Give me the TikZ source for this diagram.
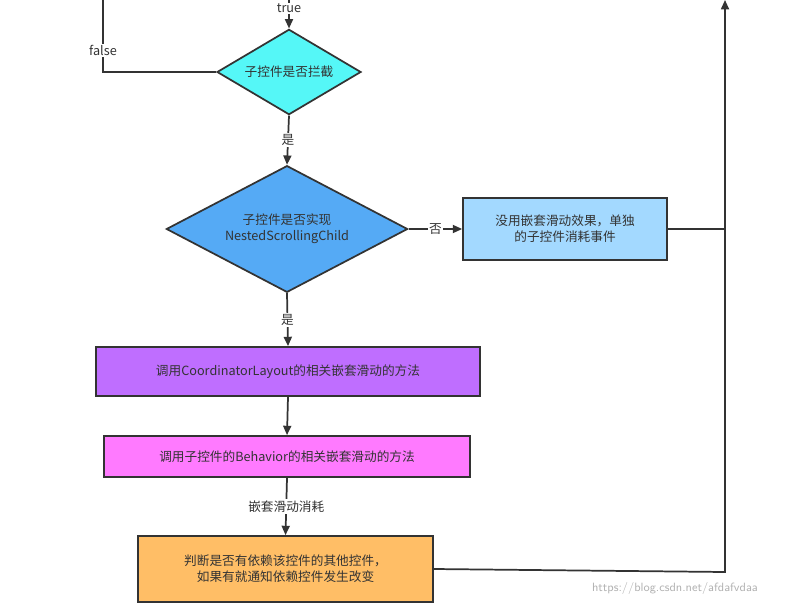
\documentclass[tikz,border=0pt]{standalone}
\usepackage{fontspec}
\setmainfont{Noto Sans CJK SC}
\usetikzlibrary{shapes.geometric,arrows.meta}
\definecolor{cyanf}{HTML}{55F7F7}
\definecolor{bluef}{HTML}{55AAF5}
\definecolor{lbluef}{HTML}{A3D9FF}
\definecolor{purf}{HTML}{BF6EFF}
\definecolor{pinkf}{HTML}{FF7AFF}
\definecolor{orf}{HTML}{FFBE66}
\definecolor{ln}{HTML}{333333}
\begin{document}
\begin{tikzpicture}[x=0.75pt,y=-0.75pt,font=\fontsize{9.5pt}{12pt}\selectfont,
 txt/.style={text=ln},
 dia/.style={diamond,draw=ln,line width=1.3pt,inner sep=0pt,aspect=1.7,align=center,txt},
 box/.style={draw=ln,line width=1.3pt,align=center,txt,inner sep=0pt},
 con/.style={draw=ln,line width=1.3pt},
 arr/.style={con,-{Triangle[length=7pt,width=6pt]}},
 lab/.style={fill=white,inner sep=1pt,txt}]
\useasboundingbox (0,0) rectangle (795,606);
\fill[white] (0,0) rectangle (795,606);
\node[dia,fill=cyanf,minimum width=144\pgflinewidth*0+108pt,minimum height=64pt] (d1) at (289,72) {子控件是否拦截};
\node[dia,fill=bluef,minimum width=181pt,minimum height=95pt] (d2) at (287,229) {子控件是否实现\\NestedScrollingChild};
\node[box,fill=lbluef,minimum width=153pt,minimum height=46.5pt] (b1) at (565,229) {没用嵌套滑动效果，单独\\的子控件消耗事件};
\node[box,fill=purf,minimum width=288pt,minimum height=36.75pt] (b2) at (288,371.5) {调用CoordinatorLayout的相关嵌套滑动的方法};
\node[box,fill=pinkf,minimum width=274.5pt,minimum height=30.75pt] (b3) at (287,456.5) {调用子控件的Behavior的相关嵌套滑动的方法};
\node[box,fill=orf,minimum width=221pt,minimum height=49.5pt] (b4) at (285.5,569) {判断是否有依赖该控件的其他控件，\\如果有就通知依赖控件发生改变};
\coordinate (top1) at (289,0);
\coordinate (fl) at (103,72);
\coordinate (ft) at (103,0);
\coordinate (r1) at (725,229);
\coordinate (r2) at (725,572);
\coordinate (rt) at (725,0);
\draw[arr] (top1) -- node[lab,pos=0.3] {true} (d1.north);
\draw[con] (d1.west) -- (fl) -- node[lab,pos=0.3] {false} (ft);
\draw[arr] (d1.south) -- node[lab] {是} (d2.north);
\draw[arr] (d2.east) -- node[lab] {否} (b1.west);
\draw[con] (b1.east) -- (r1);
\draw[arr] (d2.south) -- node[lab] {是} (b2.north);
\draw[arr] (b2.south) -- (b3.north);
\draw[arr] (b3.south) -- node[lab] {嵌套滑动消耗} (b4.north);
\draw[arr] (b4.east) -- (r2) -- (rt);
\node[text=black!30,font=\fontsize{9pt}{10pt}\selectfont\sffamily] (wm) at (675,588) {https://blog.csdn.net/afdafvdaa};
\end{tikzpicture}
\end{document}
